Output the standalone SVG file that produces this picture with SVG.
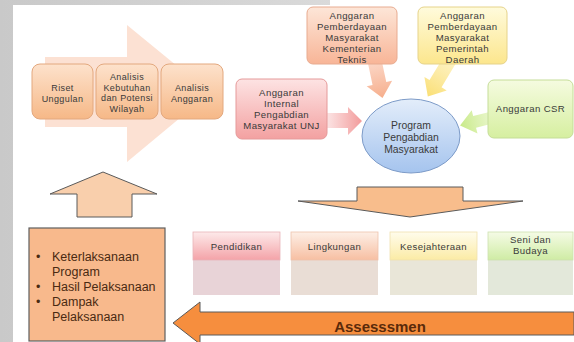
<svg xmlns="http://www.w3.org/2000/svg" width="574" height="342" viewBox="0 0 574 342">
<defs>
<linearGradient id="bgL" x1="0" y1="0" x2="1" y2="0"><stop offset="0" stop-color="#c9c9c9"/><stop offset="1" stop-color="#e6e6e6"/></linearGradient>
<linearGradient id="gOr" x1="0" y1="0" x2="0" y2="1"><stop offset="0" stop-color="#fde2cc"/><stop offset="1" stop-color="#f6b887"/></linearGradient>
<linearGradient id="gPink" x1="0" y1="0" x2="0" y2="1"><stop offset="0" stop-color="#fde3e3"/><stop offset="1" stop-color="#f3a1a1"/></linearGradient>
<linearGradient id="gPeach" x1="0" y1="0" x2="0" y2="1"><stop offset="0" stop-color="#fde6d8"/><stop offset="1" stop-color="#f8b597"/></linearGradient>
<linearGradient id="gYel" x1="0" y1="0" x2="0" y2="1"><stop offset="0" stop-color="#fffbdc"/><stop offset="1" stop-color="#fce68d"/></linearGradient>
<linearGradient id="gGrn" x1="0" y1="0" x2="0" y2="1"><stop offset="0" stop-color="#f5fbe0"/><stop offset="1" stop-color="#d6efa0"/></linearGradient>
<linearGradient id="gBlue" x1="0" y1="0" x2="0" y2="1"><stop offset="0" stop-color="#e3edfa"/><stop offset="1" stop-color="#a5c4ee"/></linearGradient>
<linearGradient id="hPink" x1="0" y1="0" x2="0" y2="1"><stop offset="0" stop-color="#fdeaea"/><stop offset="1" stop-color="#f4a3a8"/></linearGradient>
<linearGradient id="hPeach" x1="0" y1="0" x2="0" y2="1"><stop offset="0" stop-color="#fdefe6"/><stop offset="1" stop-color="#f7bfa2"/></linearGradient>
<linearGradient id="hYel" x1="0" y1="0" x2="0" y2="1"><stop offset="0" stop-color="#fffcec"/><stop offset="1" stop-color="#fbeba5"/></linearGradient>
<linearGradient id="hGrn" x1="0" y1="0" x2="0" y2="1"><stop offset="0" stop-color="#f5fbe6"/><stop offset="1" stop-color="#cfeca4"/></linearGradient>
<linearGradient id="aPink" x1="0" y1="0" x2="1" y2="0"><stop offset="0" stop-color="#f4a3a3" stop-opacity="0.2"/><stop offset="1" stop-color="#f29a9a"/></linearGradient>
<linearGradient id="aPeach" x1="0" y1="0" x2="1" y2="0"><stop offset="0" stop-color="#f8b597" stop-opacity="0.5"/><stop offset="1" stop-color="#f6ae8c"/></linearGradient>
<linearGradient id="aYel" x1="0" y1="0" x2="1" y2="0"><stop offset="0" stop-color="#fce68d" stop-opacity="0.5"/><stop offset="1" stop-color="#fadf75"/></linearGradient>
<linearGradient id="aGrn" x1="0" y1="0" x2="1" y2="0"><stop offset="0" stop-color="#d6efa0" stop-opacity="0.5"/><stop offset="1" stop-color="#c8ea88"/></linearGradient>
</defs>
<style>
.t{font-family:"Liberation Sans",Arial,sans-serif;fill:#3a3a3a;text-anchor:middle}
.s9{font-size:9px;letter-spacing:0.4px}
.s10{font-size:9.6px;letter-spacing:0.4px}
.sb{stroke:#e3a87e;stroke-width:1}
.lb{font-family:"Liberation Sans",Arial,sans-serif;font-size:12.5px;fill:#4a2a12}
</style>
<!-- background -->
<rect x="0" y="0" width="574" height="342" fill="url(#bgL)"/>
<rect x="13" y="5" width="561" height="337" fill="#ffffff"/>
<rect x="330" y="0" width="244" height="6" fill="#ffffff"/>

<g id="connectors">
  <polygon points="45,57 127,57 127,25 210,93 127,162 127,127 45,127" fill="#fbdccb" opacity="0.85"/>
  <polygon points="77,217 77,194 50,194 103,172 157,194 132,194 132,217" fill="#f9cfac" stroke="#5a5a5a" stroke-width="1"/>
  <polygon points="357,187 463,187 463,201 523,201 410,217 298,201 357,201" fill="#f8bd8c" stroke="#5a5a5a" stroke-width="1"/>
  <polygon points="574,312 200,312 200,302 173,323 200,344 200,335 574,335" fill="#f68e3e" stroke="#5a5a5a" stroke-width="1"/>
  <polygon points="322,113 348,113 348,107 362,121 348,135 348,128 322,128" fill="url(#aPink)"/>
  <g transform="translate(374,58) rotate(78)"><polygon points="0,-7 26,-7 26,-13 41,0 26,13 26,7 0,7" fill="url(#aPeach)"/></g>
  <g transform="translate(451,58) rotate(121)"><polygon points="0,-7 30,-7 30,-13 45,0 30,13 30,7 0,7" fill="url(#aYel)"/></g>
  <g transform="translate(494,117) rotate(166)"><polygon points="0,-6 20,-6 20,-12 35,0 20,12 20,6 0,6" fill="url(#aGrn)"/></g>
</g>

<g id="riset"><rect x="32" y="64" width="61" height="55" rx="8" fill="url(#gOr)" class="sb"/>
<text class="t s9" x="62.5" y="91">Riset</text><text class="t s9" x="62.5" y="102">Unggulan</text></g>
<g id="kebutuhan"><rect x="96" y="64" width="62" height="55" rx="8" fill="url(#gOr)" class="sb"/>
<text class="t s9" x="127" y="80">Analisis</text><text class="t s9" x="127" y="90.7">Kebutuhan</text><text class="t s9" x="127" y="101.4">dan Potensi</text><text class="t s9" x="127" y="112.1">Wilayah</text></g>
<g id="anggaran"><rect x="161" y="64" width="62" height="55" rx="8" fill="url(#gOr)" class="sb"/>
<text class="t s9" x="192" y="91">Analisis</text><text class="t s9" x="192" y="102">Anggaran</text></g>

<g id="internal"><rect x="236" y="79" width="91" height="60" rx="6" fill="url(#gPink)" stroke="#e59a9a"/>
<text class="t s10" x="281.5" y="96">Anggaran</text><text class="t s10" x="281.5" y="107">Internal</text><text class="t s10" x="281.5" y="118">Pengabdian</text><text class="t s10" x="281.5" y="129">Masyarakat UNJ</text></g>
<g id="kementerian"><rect x="307" y="7" width="90" height="57" rx="6" fill="url(#gPeach)" stroke="#e8ab90"/>
<text class="t s10" x="352" y="19">Anggaran</text><text class="t s10" x="352" y="30">Pemberdayaan</text><text class="t s10" x="352" y="41">Masyarakat</text><text class="t s10" x="352" y="52">Kementerian</text><text class="t s10" x="352" y="63">Teknis</text></g>
<g id="daerah"><rect x="418" y="7" width="89" height="57" rx="6" fill="url(#gYel)" stroke="#e6d38a"/>
<text class="t s10" x="462.5" y="19">Anggaran</text><text class="t s10" x="462.5" y="30">Pemberdayaan</text><text class="t s10" x="462.5" y="41">Masyarakat</text><text class="t s10" x="462.5" y="52">Pemerintah</text><text class="t s10" x="462.5" y="63">Daerah</text></g>
<g id="csr"><rect x="488" y="80" width="85" height="58" rx="6" fill="url(#gGrn)" stroke="#c5dd98"/>
<text class="t s10" x="530.5" y="112">Anggaran CSR</text></g>
<g id="program"><ellipse cx="411" cy="136" rx="49" ry="37" fill="url(#gBlue)" stroke="#7d9bc8"/>
<text class="t" font-size="10.4" x="411" y="129">Program</text><text class="t" font-size="10.4" x="411" y="141">Pengabdian</text><text class="t" font-size="10.4" x="411" y="153">Masyarakat</text></g>

<g id="pendidikan"><rect x="193" y="259" width="87" height="36" fill="#e8d3d7"/><rect x="193" y="232" width="87" height="28" fill="url(#hPink)" stroke="#e9b4b8" stroke-width="0.8"/>
<text class="t s10" x="236.5" y="250">Pendidikan</text></g>
<g id="lingkungan"><rect x="291" y="259" width="87" height="36" fill="#e9ddd5"/><rect x="291" y="232" width="87" height="28" fill="url(#hPeach)" stroke="#eec3ad" stroke-width="0.8"/>
<text class="t s10" x="334.5" y="250">Lingkungan</text></g>
<g id="kesejahteraan"><rect x="390" y="259" width="87" height="36" fill="#e9e6d8"/><rect x="390" y="232" width="87" height="28" fill="url(#hYel)" stroke="#efe2b0" stroke-width="0.8"/>
<text class="t s10" x="433.5" y="250">Kesejahteraan</text></g>
<g id="seni"><rect x="488" y="259" width="85" height="36" fill="#e3e8da"/><rect x="488" y="232" width="85" height="28" fill="url(#hGrn)" stroke="#cde2b0" stroke-width="0.8"/>
<text class="t s10" x="530.5" y="243">Seni dan</text><text class="t s10" x="530.5" y="254">Budaya</text></g>

<g id="indikator"><rect x="29" y="228" width="136" height="113" fill="#f8b98c" stroke="#5f5f5f" stroke-width="1.2"/>
<text class="lb" x="36" y="261">•</text><text class="lb" x="52" y="261">Keterlaksanaan</text>
<text class="lb" x="52" y="276">Program</text>
<text class="lb" x="36" y="291">•</text><text class="lb" x="52" y="291">Hasil Pelaksanaan</text>
<text class="lb" x="36" y="306">•</text><text class="lb" x="52" y="306">Dampak</text>
<text class="lb" x="52" y="321">Pelaksanaan</text></g>

<g id="assessmen"><text x="380" y="332" text-anchor="middle" font-family="Liberation Sans, Arial, sans-serif" font-weight="bold" font-size="15" fill="#5a2a0a">Assesssmen</text></g>
</svg>
